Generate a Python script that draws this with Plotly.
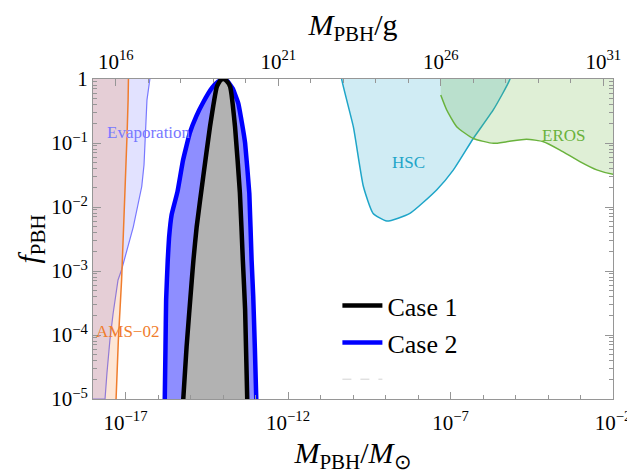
import numpy as np
import plotly.graph_objects as go

# ---------------- data (log10 values) ----------------
MSUN_G_LOG = 33.2986  # log10(solar mass in grams)

# Evaporation bound (log10 M/Msun, log10 f)
evap_logm = [-17.63, -17.57, -17.48, -17.38, -17.23, -17.12, -16.76, -16.50, -16.43, -16.40, -16.34, -16.25, -16.20]
evap_logf = [-5.0, -4.59, -4.08, -3.66, -3.14, -2.98, -2.31, -1.68, -1.34, -1.0, -0.33, 0.0, 0.3]

# AMS-02 bound
ams_logm = [-17.29, -17.22, -17.15, -17.12, -17.05, -16.98, -16.95, -16.92, -16.91, -16.90]
ams_logf = [-5.0, -4.08, -3.45, -3.14, -2.2, -1.42, -0.84, -0.33, 0.0, 0.3]

# HSC bound
hsc_logm = [-10.40, -10.35, -9.99, -9.68, -9.38, -8.96, -8.25, -7.42, -6.91, -6.30, -5.68, -5.17, -5.08]
hsc_logf = [0.3, 0.0, -0.745, -1.68, -2.10, -2.22, -2.10, -1.73, -1.42, -0.93, -0.48, 0.0, 0.3]

# EROS bound
eros_logm = [-7.30, -7.12, -6.81, -6.30, -5.68, -5.27, -4.66, -4.14, -3.63, -3.02, -2.50, -1.99, -1.80]
eros_logf = [-0.25, -0.48, -0.745, -0.93, -1.005, -0.98, -0.94, -0.98, -1.11, -1.29, -1.42, -1.49, -1.50]

# Case 2 (blue) f_PBH(M)
case2_logm = [-15.80, -15.77, -15.75, -15.70, -15.66, -15.58, -15.40, -15.23, -15.02, -14.82,
              -14.62, -14.34, -14.15, -13.98, -13.85, -13.70, -13.53, -13.42, -13.32, -13.19,
              -13.12, -13.07, -13.02, -12.96]
case2_logf = [-5.3, -4.2, -3.45, -2.83, -2.48, -2.12, -1.76, -1.27, -0.84, -0.58,
              -0.375, -0.14, -0.04, 0.0, -0.04, -0.15, -0.38, -0.68, -1.0, -1.79,
              -2.83, -3.4, -4.2, -5.3]

# Case 1 (black) f_PBH(M)
case1_logm = [-15.26, -15.12, -14.96, -14.91, -14.81, -14.61, -14.40, -14.19, -14.08, -13.99,
              -13.89, -13.78, -13.63, -13.48, -13.39, -13.32, -13.24]
case1_logf = [-5.3, -4.18, -3.14, -2.83, -2.31, -1.53, -0.745, -0.12, -0.02, 0.0,
              -0.03, -0.12, -0.745, -1.78, -2.83, -3.6, -5.3]

# axes
x_range_log = [-18, -2]
y_range_log = [-5, 0]
xbot_labeled = [-17, -12, -7, -2]
xtop_labeled = [16, 21, 26, 31]
y_labeled = [-5, -4, -3, -2, -1, 0]

labels = {
    "Evaporation": (-16.29, -0.84),
    "AMS\u221202": (-16.95, -3.94),
    "HSC": (-8.28, -1.30),
    "EROS": (-3.51, -0.875),
}

FONT = "Liberation Serif"

def p(a):
    return list(10.0 ** np.array(a, dtype=float))

# ---------------- figure ----------------
fig = go.Figure()

LEFT_OUT = -19.0
TOP_OUT = 0.5

# Evaporation region (left of the curve)
fig.add_trace(go.Scatter(
    x=p([LEFT_OUT] + evap_logm + [LEFT_OUT]),
    y=p([-5.0] + evap_logf + [evap_logf[-1]]),
    mode="lines", fill="toself", fillcolor="rgba(110,110,255,0.2)",
    line=dict(color="rgb(120,120,255)", width=1.2), showlegend=False, hoverinfo="skip"))

# AMS-02 region
fig.add_trace(go.Scatter(
    x=p([LEFT_OUT] + ams_logm + [LEFT_OUT]),
    y=p([-6.0] + ams_logf + [ams_logf[-1]]),
    mode="lines", fill="toself", fillcolor="rgba(245,130,50,0.2)",
    line=dict(color="rgb(240,125,45)", width=1.5), showlegend=False, hoverinfo="skip"))

# HSC region
fig.add_trace(go.Scatter(
    x=p(hsc_logm), y=p(hsc_logf),
    mode="lines", fill="toself", fillcolor="rgba(40,170,205,0.22)",
    line=dict(color="rgb(30,165,200)", width=1.5, shape="spline", smoothing=0.5),
    showlegend=False, hoverinfo="skip"))

# EROS region (above curve)
fig.add_trace(go.Scatter(
    x=p([eros_logm[0]] + eros_logm + [eros_logm[-1], eros_logm[0]]),
    y=p([TOP_OUT] + eros_logf + [TOP_OUT, TOP_OUT]),
    mode="lines", fill="toself", fillcolor="rgba(110,180,70,0.22)",
    line=dict(width=0), showlegend=False, hoverinfo="skip"))
fig.add_trace(go.Scatter(
    x=p(eros_logm), y=p(eros_logf), mode="lines",
    line=dict(color="rgb(105,178,60)", width=1.5, shape="spline", smoothing=0.5),
    showlegend=False, hoverinfo="skip"))

# Case 2
fig.add_trace(go.Scatter(
    x=p(case2_logm), y=p(case2_logf), mode="lines", fill="toself",
    fillcolor="rgb(142,142,255)", line=dict(width=0, shape="spline", smoothing=0.3),
    showlegend=False, hoverinfo="skip"))
fig.add_trace(go.Scatter(
    x=p(case2_logm), y=p(case2_logf), mode="lines", name="Case 2",
    line=dict(color="rgb(0,0,255)", width=4.5, shape="spline", smoothing=0.3),
    legendrank=2, hoverinfo="skip"))

# Case 1
fig.add_trace(go.Scatter(
    x=p(case1_logm), y=p(case1_logf), mode="lines", fill="toself",
    fillcolor="rgb(178,178,178)", line=dict(width=0, shape="spline", smoothing=0.4),
    showlegend=False, hoverinfo="skip"))
fig.add_trace(go.Scatter(
    x=p(case1_logm), y=p(case1_logf), mode="lines", name="Case 1",
    line=dict(color="black", width=4.5, shape="spline", smoothing=0.4),
    legendrank=1, hoverinfo="skip"))

# empty dashed legend entry
fig.add_trace(go.Scatter(
    x=[None], y=[None], mode="lines", name=" ",
    line=dict(color="rgb(210,210,210)", width=1, dash="dash"),
    legendrank=3, hoverinfo="skip"))

# top axis helper trace (invisible) so xaxis2 is drawn
fig.add_trace(go.Scatter(x=[None], y=[None], xaxis="x2", yaxis="y",
                         showlegend=False, hoverinfo="skip"))

label_colors = {
    "Evaporation": "rgb(120,120,255)",
    "AMS\u221202": "rgb(240,125,45)",
    "HSC": "rgb(30,165,200)",
    "EROS": "rgb(105,178,60)",
}
for txt, (lx, ly) in labels.items():
    fig.add_annotation(x=lx, y=ly, xref="x", yref="y", text=txt, showarrow=False,
                       font=dict(family=FONT, size=17, color=label_colors[txt]))

AX = "rgb(150,150,150)"

def sup(e):
    s = str(e).replace("-", "\u2212")
    return f"10<sup>{s}</sup>"

xbot_all = list(range(x_range_log[0], x_range_log[1] + 1))
xtop_lo = int(np.ceil(x_range_log[0] + MSUN_G_LOG))
xtop_hi = int(np.floor(x_range_log[1] + MSUN_G_LOG))
xtop_all = list(range(xtop_lo, xtop_hi + 1))
y_minor = [np.log10(k) + e for e in range(-5, 0) for k in range(2, 10)]

TICKSZ = 21
TITLESZ = 30

# the page body adds an 8px offset; size the figure so the plot lands where intended
fig.update_layout(
    width=627, height=466,
    margin=dict(l=85, r=22, t=71, b=75, autoexpand=False),
    paper_bgcolor="white", plot_bgcolor="white",
    font=dict(family=FONT, size=20, color="black"),
    showlegend=True,
    legend=dict(x=0.47, y=0.365, xanchor="left", yanchor="top",
                bgcolor="rgba(0,0,0,0)", font=dict(family=FONT, size=26, color="black"),
                tracegroupgap=0, itemwidth=40),
    xaxis=dict(type="log", range=x_range_log, automargin=False,
               tickvals=p(xbot_labeled), ticktext=[sup(e) for e in xbot_labeled],
               ticks="inside", ticklen=7, tickcolor=AX, tickwidth=1,
               ticklabelstandoff=5,
               minor=dict(tickvals=p([e for e in xbot_all if e not in xbot_labeled]),
                          ticks="inside", ticklen=4, tickcolor=AX, showgrid=False),
               showline=True, linecolor=AX, linewidth=1, mirror=True,
               showgrid=False, zeroline=False,
               tickfont=dict(family=FONT, size=TICKSZ),
               title=dict(text="<i>M</i><sub>PBH</sub>/<i>M</i><sub>\u2299</sub>",
                          font=dict(family=FONT, size=TITLESZ), standoff=8)),
    xaxis2=dict(type="log", overlaying="x", side="top", automargin=False,
                range=[x_range_log[0] + MSUN_G_LOG, x_range_log[1] + MSUN_G_LOG],
                tickvals=p(xtop_labeled), ticktext=[sup(e) for e in xtop_labeled],
                ticks="inside", ticklen=7, tickcolor=AX, tickwidth=1,
                ticklabelstandoff=5,
                minor=dict(tickvals=p([e for e in xtop_all if e not in xtop_labeled]),
                           ticks="inside", ticklen=4, tickcolor=AX, showgrid=False),
                showline=False, showgrid=False, zeroline=False,
                tickfont=dict(family=FONT, size=TICKSZ),
                title=dict(text="<i>M</i><sub>PBH</sub>/g",
                           font=dict(family=FONT, size=TITLESZ), standoff=12)),
    yaxis=dict(type="log", range=y_range_log, automargin=False,
               tickvals=p(y_labeled),
               ticktext=[sup(e) if e != 0 else "1" for e in y_labeled],
               ticks="inside", ticklen=8, tickcolor=AX, tickwidth=1,
               minor=dict(tickvals=p(y_minor), ticks="inside", ticklen=4,
                          tickcolor=AX, showgrid=False),
               showline=True, linecolor=AX, linewidth=1, mirror="ticks",
               showgrid=False, zeroline=False,
               tickfont=dict(family=FONT, size=TICKSZ),
               title=dict(text="<i>f</i><sub>PBH</sub>",
                          font=dict(family=FONT, size=TITLESZ), standoff=2)),
)

fig.write_html("out.html")
